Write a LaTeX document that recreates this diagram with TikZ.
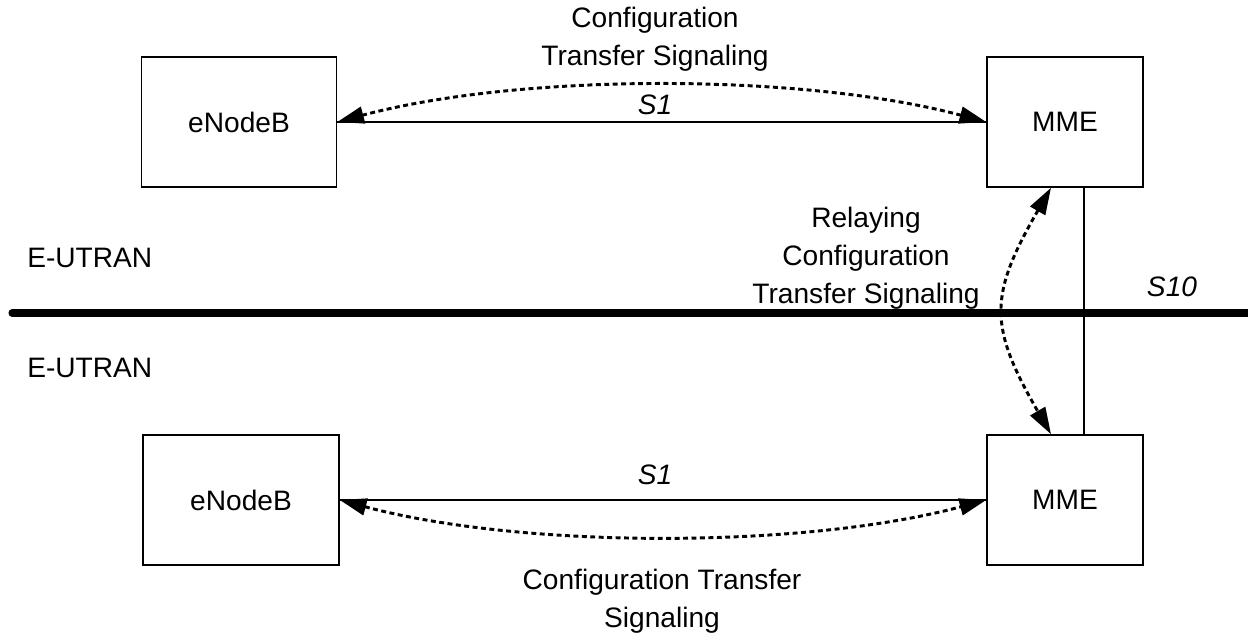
\documentclass[tikz,border=0pt]{standalone}
\usepackage{fontspec}
\setmainfont{Liberation Sans}
\usetikzlibrary{arrows.meta, calc}

\tikzset{
    netbox/.style={draw, rectangle, line width=1.1pt, minimum height=3.25cm, inner sep=0pt},
    iface/.style={line width=1.1pt},
    signal/.style={line width=2.1pt, dash pattern=on 3.5pt off 2.5pt,
        {Triangle[length=19pt, width=12pt]}-{Triangle[length=19pt, width=12pt]}},
    lbl/.style={align=center, inner sep=0pt}
}

\begin{document}
\begin{tikzpicture}[x=0.025cm, y=0.025cm, font=\fontsize{20}{27}\selectfont]
    \useasboundingbox (0,0) rectangle (1248,637);

    % Network elements
    \node[netbox, minimum width=4.875cm] (enb1) at (239,515) {eNodeB};
    \node[netbox, minimum width=3.9cm] (mme1) at (1065,515) {MME};
    \node[netbox, minimum width=4.9cm] (enb2) at (241,137) {eNodeB};
    \node[netbox, minimum width=3.9cm] (mme2) at (1065,137) {MME};

    % Border between the two networks
    \coordinate (bl) at (12,324);
    \coordinate (br) at (1270,324);
    \draw[line width=5pt, line cap=round] (bl) -- (br);

    \node[lbl, anchor=west] (eut1) at (27,379) {E-UTRAN};
    \node[lbl, anchor=west] (eut2) at (27,269) {E-UTRAN};

    % S1 interfaces
    \draw[iface] (mme1.west) -- (enb1.east);
    \node[lbl] (s1a) at (655,532) {\itshape S1};
    \draw[iface] (enb2.east) -- (mme2.west);
    \node[lbl] (s1b) at (655,162) {\itshape S1};

    % S10 interface
    \draw[iface] ($(mme1.south)+(19,0)$) -- ($(mme2.north)+(19,0)$);
    \node[lbl] (s10) at (1172,350) {\itshape S10};

    % Configuration transfer signaling
    \draw[signal] (mme1.west) to[out=165, in=15, looseness=0.75] (enb1.east);
    \node[lbl] (cfg1) at (655,598) {Configuration\\Transfer Signaling};

    \draw[signal] (enb2.east) to[out=-15, in=195, looseness=0.75] (mme2.west);
    \node[lbl] (cfg2) at (662,36) {Configuration Transfer\\Signaling};

    % Relaying between the MMEs
    \draw[signal] ($(mme1.south)+(-14,0)$) to[out=240, in=120, looseness=1.3] ($(mme2.north)+(-14,0)$);
    \node[lbl] (relay) at (866,379) {Relaying\\Configuration\\Transfer Signaling};

\end{tikzpicture}
\end{document}
